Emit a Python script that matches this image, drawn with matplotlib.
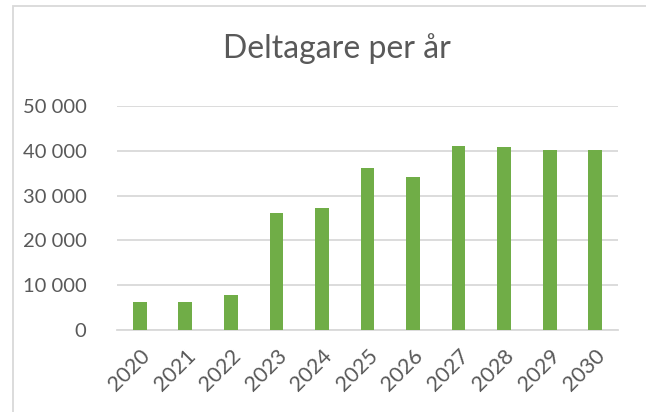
import matplotlib.pyplot as plt
from matplotlib.patches import Rectangle

years = ["2020", "2021", "2022", "2023", "2024", "2025",
         "2026", "2027", "2028", "2029", "2030"]
participants = [6200, 6200, 7900, 26200, 27300, 36200,
                34200, 41000, 40800, 40200, 40200]
yticks = [0, 10000, 20000, 30000, 40000, 50000]
ytick_labels = ["0", "10 000", "20 000", "30 000", "40 000", "50 000"]

plt.rcParams["font.family"] = ["Lato", "DejaVu Sans"]

fig = plt.figure(figsize=(6.46, 4.12), dpi=100)
ax = fig.add_axes([117 / 646, 1 - 330 / 412, 501 / 646, 224 / 412])

x = range(len(years))
ax.bar(x, participants, width=0.3, color="#70AD47", zorder=3)

ax.set_xlim(-0.5, len(years) - 0.5)
ax.set_ylim(0, 50000)
ax.set_yticks(yticks)
ax.set_yticklabels(ytick_labels)
ax.set_xticks(list(x))
ax.set_xticklabels(years, rotation=45, ha="right", rotation_mode="anchor",
                   fontsize=15.5)

ax.grid(axis="y", color="#d9d9d9", linewidth=1.3, zorder=0)
for side in ["top", "right", "left"]:
    ax.spines[side].set_visible(False)
ax.spines["bottom"].set_color("#d9d9d9")
ax.spines["bottom"].set_linewidth(1.3)
ax.tick_params(axis="both", length=0, labelcolor="#595959")
ax.tick_params(axis="y", pad=22, labelsize=14.5)
ax.tick_params(axis="x", pad=11)

fig.text(337 / 646, 1 - 58 / 412, "Deltagare per år", ha="center",
         va="baseline", fontsize=23, color="#595959")

# chart area border (cut off on the right and bottom)
fig.patches.append(Rectangle((13 / 646, -0.1), 1.2, 1 - 6 / 412 + 0.1,
                             transform=fig.transFigure, fill=False,
                             edgecolor="#d9d9d9", linewidth=1.3))

fig.savefig("out.png", dpi=100)
